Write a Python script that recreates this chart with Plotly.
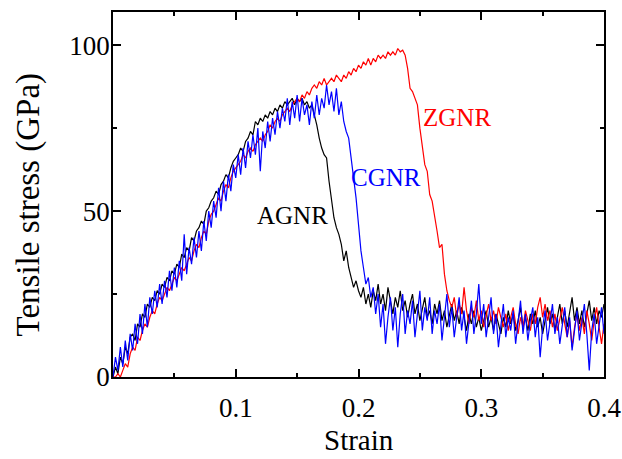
import plotly.graph_objects as go

strain = [round(0.002 * i, 3) for i in range(201)]

agnr = [
    0, 3, 1, 6, 4, 9, 7, 12, 13, 11,
    16, 15, 19, 18, 22, 21, 24, 23, 26, 25,
    28, 27, 30, 29, 32, 31, 34, 33, 37, 36,
    39, 38, 42, 41, 44, 45, 47, 46, 50, 51,
    53, 54, 56, 55, 58, 59, 61, 60, 63, 65,
    66, 67, 69, 68, 71, 72, 74, 73, 77, 76,
    78, 77, 79, 78, 80, 79, 81, 80, 82, 81,
    83, 82, 83, 84, 82, 84, 83, 84, 82, 83,
    81, 82, 79, 76, 72, 69, 67, 66, 59, 53,
    48, 45, 43, 40, 35, 38, 33, 30, 27, 29,
    26, 24, 27, 22, 25, 21, 26, 23, 28, 22,
    25, 20, 27, 23, 19, 24, 21, 26, 20, 23,
    18, 22, 25, 19, 22, 17, 21, 24, 18, 20,
    16, 22, 19, 23, 17, 20, 15, 19, 22, 17,
    20, 16, 21, 18, 14, 19, 16, 20, 15, 18,
    14, 17, 20, 15, 18, 14, 19, 16, 13, 18,
    15, 20, 16, 19, 14, 17, 21, 15, 18, 14,
    19, 16, 20, 15, 18, 13, 17, 21, 16, 19,
    14, 18, 22, 16, 20, 15, 19, 24, 17, 21,
    16, 20, 15, 19, 23, 17, 21, 16, 20, 18,
    22,
]

zgnr = [
    0, 0, 1, 0, 2, 4, 3, 7, 9, 8,
    12, 11, 14, 16, 15, 18, 20, 19, 22, 24,
    23, 25, 27, 26, 28, 30, 29, 31, 33, 32,
    34, 36, 35, 38, 40, 39, 42, 44, 43, 47,
    49, 50, 52, 54, 53, 56, 58, 57, 60, 62,
    63, 64, 65, 67, 66, 68, 69, 68, 70, 71,
    72, 71, 73, 74, 76, 75, 77, 78, 77, 79,
    80, 81, 80, 82, 83, 84, 83, 85, 84, 86,
    85, 87, 88, 87, 89, 88, 90, 88, 89, 90,
    89, 91, 90, 89, 91, 90, 92, 91, 93, 92,
    94, 93, 95, 94, 96, 94, 96, 95, 97, 96,
    97, 96, 98, 97, 98, 97, 99, 98, 98.5, 97,
    93, 87, 86, 84, 82, 75, 69, 64, 62, 55,
    53, 49, 44, 39, 40, 31, 26, 23, 21, 24,
    18, 22, 19, 27, 20, 16, 21, 18, 23, 17,
    20, 15, 19, 22, 17, 20, 16, 21, 18, 15,
    19, 14, 18, 21, 16, 13, 18, 15, 20, 17,
    14, 19, 16, 21, 24, 18, 22, 17, 20, 15,
    19, 14, 18, 21, 16, 12, 17, 9, 15, 19,
    14, 18, 13, 20, 16, 11, 17, 21, 15, 10,
    16,
]

cgnr = [
    0, 6, 2, 9, 3, 11, 5, 13, 8, 16,
    10, 19, 13, 22, 15, 24, 19, 26, 21, 28,
    22, 29, 24, 32, 26, 33, 27, 35, 29, 43,
    31, 39, 34, 42, 36, 44, 38, 47, 41, 50,
    45, 53, 48, 57, 50, 59, 53, 61, 56, 64,
    60, 67, 61, 69, 63, 71, 66, 73, 67, 75,
    62, 74, 69, 77, 71, 78, 73, 80, 75, 81,
    77, 84, 76, 83, 78, 85, 77, 84, 79, 82,
    76, 83, 78, 85, 79, 84, 81, 88, 82, 86,
    80, 87, 79, 83, 77, 74, 72, 66, 60, 54,
    46, 38, 33, 28, 30, 24, 27, 19, 25, 15,
    22, 10, 18, 24, 14, 21, 9, 19, 25, 13,
    20, 16, 23, 12, 19, 26, 14, 21, 17, 24,
    13, 20, 16, 22, 11, 18, 25, 15, 21, 12,
    19, 24, 14, 20, 10, 17, 23, 13, 19, 28,
    16, 22, 12, 18, 24, 13, 19, 9, 16, 22,
    12, 18, 14, 20, 10, 17, 23, 13, 19, 11,
    17, 21, 12, 18, 6, 15, 20, 11, 17, 22,
    13, 18, 10, 16, 21, 12, 18, 8, 15, 20,
    11, 17, 22, 13, 2, 14, 19, 10, 16, 21,
    13,
]

labels = ["AGNR", "ZGNR", "CGNR"]
colors = ["#000000", "#ff0000", "#0000ff"]
label_x = [0.1462, 0.2806, 0.2222]
label_y = [48.8, 78.3, 60.0]

x_ticks = [0.1, 0.2, 0.3, 0.4]
x_tick_text = ["0.1", "0.2", "0.3", "0.4"]
x_minor = [0.05, 0.15, 0.25, 0.35]
y_ticks = [0, 50, 100]
y_minor = [25, 75]

x_title = "Strain"
y_title = "Tensile stress (GPa)"

font_family = "Liberation Serif"

fig = go.Figure()
for name, ys, c in zip(labels, [agnr, zgnr, cgnr], colors):
    fig.add_trace(go.Scatter(x=strain, y=ys, mode="lines", name=name,
                             line=dict(color=c, width=1.2), showlegend=False))

for name, lx, ly, c in zip(labels, label_x, label_y, colors):
    fig.add_annotation(x=lx, y=ly, text=name, showarrow=False,
                       font=dict(family=font_family, size=25, color=c),
                       xanchor="center", yanchor="middle")

fig.add_annotation(xref="paper", yref="paper", x=0.5, y=0, yshift=-63,
                   text=x_title, showarrow=False, xanchor="center", yanchor="middle",
                   font=dict(family=font_family, size=29, color="black"))
fig.add_annotation(xref="paper", yref="paper", x=0, y=0.47, xshift=-85,
                   text=y_title, showarrow=False, textangle=-90,
                   xanchor="center", yanchor="middle",
                   font=dict(family=font_family, size=33, color="black"))

axis_common = dict(showline=True, linecolor="black", linewidth=1.5, mirror="ticks",
                   ticks="inside", ticklen=8, tickwidth=1.5, tickcolor="black",
                   showgrid=False, zeroline=False, automargin=False,
                   tickfont=dict(family=font_family, size=27, color="black"))

fig.update_xaxes(range=[0, 0.4], tickvals=x_ticks, ticktext=x_tick_text,
                 ticklabelstandoff=6,
                 minor=dict(tickvals=x_minor, ticks="inside",
                            ticklen=4, tickwidth=1.5, tickcolor="black"),
                 **axis_common)
fig.update_yaxes(range=[0, 110], tickvals=y_ticks,
                 ticklabelstandoff=-4,
                 minor=dict(tickvals=y_minor, ticks="inside",
                            ticklen=4, tickwidth=1.5, tickcolor="black"),
                 **axis_common)

fig.update_layout(width=622, height=459,
                  margin=dict(l=113, r=18, t=12, b=82),
                  font=dict(family=font_family, color="black"),
                  plot_bgcolor="white", paper_bgcolor="white")

fig.write_html("out.html", config={"displayModeBar": False},
               post_script="document.body.style.margin='0';document.body.style.overflow='hidden';")
